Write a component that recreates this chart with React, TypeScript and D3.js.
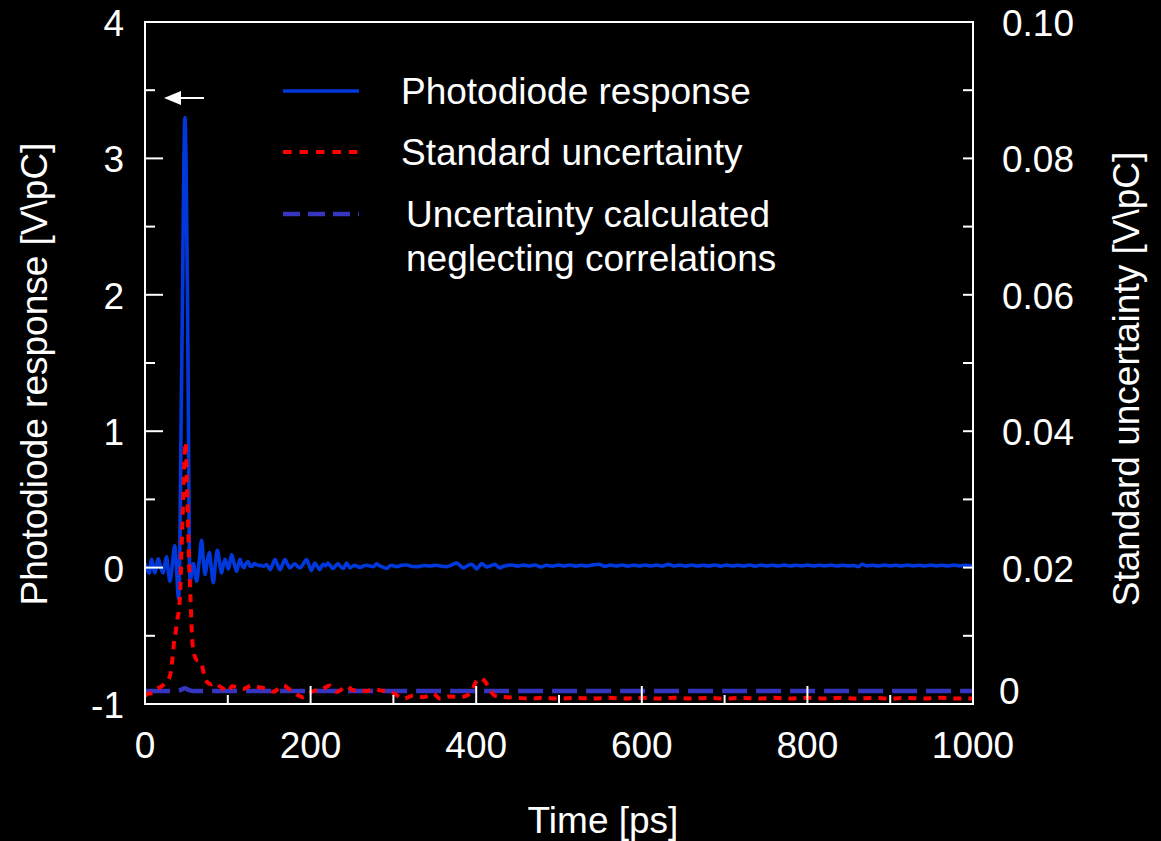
import React from 'react';
import * as d3 from 'd3';

// ---------- data (time in ps) ----------
const photodiode: [number, number][] = [
  [0, 0.03], [2.5, -0.01], [5, -0.04], [8, 0.06], [10, 0.0], [12, -0.04], [14, 0.02], [16, 0.065],
  [19, 0.0], [22, -0.04], [24, 0.03], [26, 0.08], [28, -0.02], [30, -0.1], [33, 0.02], [36, 0.16],
  [38, 0.0], [40.5, -0.23], [42, 0.1], [43.5, 1.0], [45.3, 2.0], [47, 3.0], [48.3, 3.3], [49.5, 3.0],
  [51.3, 2.0], [52.5, 1.0], [53.6, 0.1], [54.5, -0.1], [58.3, 0.03], [62.4, -0.1], [65.5, 0.05],
  [68.4, 0.2], [70.5, 0.05], [72.5, -0.05], [75, 0.04], [77.7, 0.11], [80, 0.0], [82.5, -0.11],
  [85, 0.03], [87.4, 0.127], [90, 0.04], [92.6, -0.04], [94.6, 0.02], [96.6, 0.06], [98.6, 0.03],
  [100.6, -0.01], [102.6, 0.04], [104.7, 0.095], [107.7, 0.03], [110.7, -0.027], [112.7, 0.02],
  [114.7, 0.06], [117, 0.02], [119.6, 0.0], [122, 0.03], [124.5, 0.045], [127, 0.01], [129.5, 0.01],
  [132, 0.03], [135, 0.02], [139, 0.015], [143, 0.01], [147, 0.022], [151, -0.015], [154, 0.02],
  [157, 0.059], [160, 0.02], [163, -0.015], [166, 0.02], [169, 0.059], [172, 0.025], [175, -0.002],
  [178, 0.015], [181, 0.027], [184, 0.01], [187, -0.002], [191, 0.025], [195, 0.059], [198, 0.02],
  [201, -0.022], [205, 0.034], [208, 0.01], [211, -0.015], [215, 0.025], [218, 0.012], [221, 0.034],
  [224, 0.012], [227, -0.007], [230, 0.012], [233, 0.027], [236, 0.01], [239.5, -0.007], [243.6, 0.034],
  [247.6, -0.002], [250.6, 0.01], [253.6, 0.017], [256.6, 0.008], [259.7, 0.002], [263.7, 0.012],
  [267.7, 0.017], [271.7, 0.012], [275.7, 0.007], [279.8, 0.027], [283, 0.015], [285.8, 0.007],
  [289, 0.0], [291.9, -0.007], [295, 0.01], [298, 0.017], [301, 0.01], [304, 0.007], [310, 0.017],
  [316, 0.019], [323, 0.008], [330, 0.007], [337, 0.015], [344, 0.012], [352, 0.017], [358, 0.01],
  [364, 0.007], [370, 0.018], [376.5, 0.034], [380.5, 0.015], [384.4, -0.002], [390, 0.015],
  [394.5, 0.025], [397.5, 0.01], [400.6, -0.01], [403.6, 0.01], [406.6, 0.03], [409.6, 0.018],
  [412.7, 0.005], [418, 0.015], [422.7, 0.024], [425.7, 0.01], [428.7, -0.002], [432.7, 0.01],
  [436.8, 0.015], [443, 0.019], [450, 0.011], [457, 0.018], [464, 0.012], [471, 0.019], [478, 0.004],
  [485, 0.017], [492, 0.011], [499, 0.018], [506, 0.012], [513, 0.019], [520, 0.011], [527, 0.017],
  [534, 0.012], [541, 0.02], [548, 0.025], [555, 0.01], [562, 0.018], [569, 0.012], [576, 0.019],
  [583, 0.011], [590, 0.018], [597, 0.012], [604, 0.019], [611, 0.012], [618, 0.018], [625, 0.011],
  [632, 0.024], [639, 0.012], [646, 0.018], [653, 0.011], [660, 0.019], [667, 0.012], [674, 0.017],
  [681, 0.012], [688, 0.019], [695, 0.011], [702, 0.018], [709, 0.012], [716, 0.017], [723, 0.012],
  [730, 0.019], [737, 0.011], [744, 0.018], [751, 0.013], [758, 0.017], [765, 0.012], [772, 0.018],
  [779, 0.012], [786, 0.017], [793, 0.013], [800, 0.018], [807, 0.012], [814, 0.017], [821, 0.013],
  [828, 0.018], [835, 0.012], [842, 0.017], [849, 0.013], [856, 0.015], [862, 0.007], [866, 0.025],
  [872, 0.013], [879, 0.017], [886, 0.012], [893, 0.018], [900, 0.013], [907, 0.017], [914, 0.012],
  [921, 0.018], [928, 0.013], [935, 0.017], [942, 0.012], [949, 0.018], [956, 0.013], [963, 0.017],
  [970, 0.012], [977, 0.018], [984, 0.013], [991, 0.017], [998, 0.014], [1000, 0.015],
];

const stdUncertainty: [number, number][] = [
  [0, 0.0012], [3, 0.0015], [8, 0.0016], [14, 0.0022], [20, 0.0026], [25, 0.0031], [30, 0.0041],
  [33, 0.0065], [35, 0.009], [37, 0.0105], [39, 0.0124], [41, 0.0138], [42.5, 0.0165], [44, 0.0222],
  [46, 0.0296], [48, 0.037], [49, 0.0384], [50.5, 0.033], [52, 0.0262], [53.5, 0.02], [55, 0.0154],
  [57, 0.0095], [60, 0.007], [63, 0.0064], [66, 0.0063], [69, 0.0056], [72, 0.004], [76, 0.0031],
  [80, 0.0029], [85, 0.0031], [90, 0.0026], [95, 0.0022], [100.6, 0.0018], [105, 0.0026],
  [110.7, 0.0025], [118.7, 0.0022], [128.9, 0.0027], [136.8, 0.0025], [147, 0.0022], [155, 0.0018],
  [167, 0.0027], [177, 0.0019], [191, 0.001], [203, 0.0019], [213, 0.0021], [223, 0.0027],
  [232, 0.0018], [243.6, 0.0026], [251.6, 0.002], [259.7, 0.002], [267.8, 0.0019], [275.7, 0.0022],
  [283.8, 0.002], [300, 0.0016], [312, 0.0008], [324, 0.0012], [336, 0.001], [348, 0.0015],
  [356, 0.0008], [368, 0.0011], [380, 0.001], [392.5, 0.0015], [400.6, 0.0034], [405, 0.0038],
  [410, 0.0034], [414, 0.0027], [418, 0.0018], [422.7, 0.0012], [436.8, 0.001], [450, 0.0009],
  [465, 0.0008], [480, 0.0009], [500, 0.0008], [520, 0.0009], [540, 0.0008], [560, 0.0009],
  [580, 0.0008], [600, 0.0009], [620, 0.0008], [640, 0.0009], [660, 0.0008], [680, 0.0009],
  [700, 0.0008], [720, 0.0009], [740, 0.0008], [760, 0.0009], [780, 0.0008], [800, 0.0009],
  [820, 0.0008], [840, 0.0009], [860, 0.0008], [880, 0.0009], [900, 0.0008], [920, 0.0009],
  [940, 0.0008], [960, 0.0009], [980, 0.0008], [1000, 0.0008],
];

const uncorrelated: [number, number][] = [
  [0, 0.0019], [38, 0.0019], [44, 0.0021], [48, 0.0023], [52, 0.0021], [58, 0.0019], [1000, 0.0019],
];

const xMajorTicks = [0, 200, 400, 600, 800, 1000];
const xMinorTicks = [100, 300, 500, 700, 900];
const leftMajorTicks = [-1, 0, 1, 2, 3, 4];
const leftMinorTicks = [-0.5, 0.5, 1.5, 2.5, 3.5];
const rightTicks = [0.01, 0.02, 0.03, 0.04, 0.05, 0.06, 0.07, 0.08, 0.09];
const rightLabels = [0, 0.02, 0.04, 0.06, 0.08, 0.1];

const legendItems = [
  { lines: ['Photodiode response'], color: '#0038dc', dash: 'none', width: 3.5 },
  { lines: ['Standard uncertainty'], color: '#ff0000', dash: '8.5,8', width: 4 },
  { lines: ['Uncertainty calculated', 'neglecting correlations'], color: '#3535c0', dash: '17,8', width: 4.5 },
];

const W = 1161;
const H = 841;
const M = { left: 145, right: 973, top: 22, bottom: 704 };
const FONT = '"Liberation Sans", Arial, Helvetica, sans-serif';
const FS = 37;

export default function App() {
  const x = d3.scaleLinear().domain([0, 1000]).range([M.left, M.right]);
  const yL = d3.scaleLinear().domain([-1, 4]).range([M.bottom, M.top]);
  const yR = d3.scaleLinear().domain([0, 0.1]).range([M.bottom, M.top]);

  const lineL = d3.line<[number, number]>().x(d => x(d[0])).y(d => yL(d[1])).curve(d3.curveMonotoneX);
  const lineR = d3.line<[number, number]>().x(d => x(d[0])).y(d => yR(d[1])).curve(d3.curveMonotoneX);

  const fmtR = (v: number) => (v === 0 ? '0' : d3.format('.2f')(v));

  const legendX1 = 283;
  const legendX2 = 359;
  const legendTextX = [401, 401, 406];
  const legendY = [91, 152, 214];

  return (
    <svg width={W} height={H} style={{ position: 'absolute', left: 0, top: 0, display: 'block' }}
      fontFamily={FONT}>
      <rect x={0} y={0} width={W} height={H} fill="#000" />
      <defs>
        <clipPath id="plot">
          <rect x={M.left} y={M.top} width={M.right - M.left} height={M.bottom - M.top} />
        </clipPath>
      </defs>

      <g clipPath="url(#plot)">
        <path d={lineL(photodiode) || ''} fill="none" stroke="#0038dc" strokeWidth={3.6} strokeLinejoin="round" />
        <path d={lineR(uncorrelated) || ''} fill="none" stroke="#3535c0" strokeWidth={4.5} strokeDasharray="25,9" />
        <path d={lineR(stdUncertainty) || ''} fill="none" stroke="#ff0000" strokeWidth={4} strokeDasharray="8,7" />
      </g>

      {/* frame */}
      <rect x={M.left} y={M.top} width={M.right - M.left} height={M.bottom - M.top}
        fill="none" stroke="#fff" strokeWidth={2} />

      {/* bottom ticks */}
      {xMajorTicks.map(t => (
        <line key={'xM' + t} x1={x(t)} x2={x(t)} y1={M.bottom} y2={M.bottom - 18} stroke="#fff" strokeWidth={2} />
      ))}
      {xMinorTicks.map(t => (
        <line key={'xm' + t} x1={x(t)} x2={x(t)} y1={M.bottom} y2={M.bottom - 9} stroke="#fff" strokeWidth={2} />
      ))}
      {xMajorTicks.map(t => (
        <text key={'xl' + t} x={x(t)} y={758} fill="#fff" fontSize={FS} textAnchor="middle">{t}</text>
      ))}

      {/* left ticks */}
      {leftMajorTicks.map(t => (
        <line key={'lM' + t} x1={M.left} x2={M.left + 18} y1={yL(t)} y2={yL(t)} stroke="#fff" strokeWidth={2} />
      ))}
      {leftMinorTicks.map(t => (
        <line key={'lm' + t} x1={M.left} x2={M.left + 10} y1={yL(t)} y2={yL(t)} stroke="#fff" strokeWidth={2} />
      ))}
      {leftMajorTicks.map(t => (
        <text key={'ll' + t} x={124} y={yL(t) + 14} fill="#fff" fontSize={FS} textAnchor="end">{t}</text>
      ))}

      {/* right ticks */}
      {rightTicks.map(t => (
        <line key={'r' + t} x1={M.right} x2={M.right - 10} y1={yR(t)} y2={yR(t)} stroke="#fff" strokeWidth={2} />
      ))}
      {rightLabels.map(t => (
        <text key={'rl' + t} x={t === 0 ? 999 : 1002} y={yR(t) + 14 + (t === 0 ? -14 : 0)} fill="#fff"
          fontSize={FS} textAnchor="start">{fmtR(t)}</text>
      ))}

      {/* axis titles */}
      <text x={603} y={833} fill="#fff" fontSize={FS} textAnchor="middle">Time [ps]</text>
      <text transform={`translate(47,374) rotate(-90)`} fill="#fff" fontSize={FS} textAnchor="middle">
        Photodiode response [V\pC]
      </text>
      <text transform={`translate(1139,379) rotate(-90)`} fill="#fff" fontSize={FS} textAnchor="middle">
        Standard uncertainty [V\pC]
      </text>

      {/* legend */}
      {legendItems.map((it, i) => (
        <g key={'lg' + i}>
          <line x1={legendX1} x2={legendX2} y1={legendY[i]} y2={legendY[i]} stroke={it.color}
            strokeWidth={it.width} strokeDasharray={it.dash} />
          {it.lines.map((s, j) => (
            <text key={j} x={legendTextX[i]} y={legendY[i] + 13 + j * 44} fill="#fff" fontSize={FS}>{s}</text>
          ))}
        </g>
      ))}

      {/* arrow pointing to left axis */}
      <line x1={204} x2={178} y1={98} y2={98} stroke="#fff" strokeWidth={2} />
      <path d="M164,98 L181,91 L181,105 Z" fill="#fff" />
    </svg>
  );
}
